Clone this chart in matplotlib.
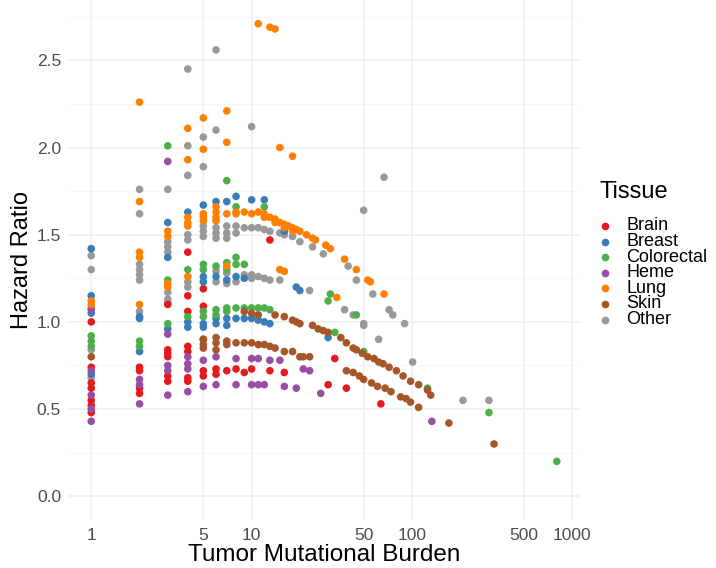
import matplotlib
matplotlib.use("Agg")
import matplotlib.pyplot as plt
from matplotlib.lines import Line2D

plt.rcParams['font.family'] = ['Liberation Sans', 'DejaVu Sans']

# ---------------- data ----------------
tissues = ["Brain", "Breast", "Colorectal", "Heme", "Lung", "Skin", "Other"]
colors = ["#E41A1C", "#377EB8", "#4DAF4A", "#984EA3", "#FF7F00", "#A65628", "#999999"]

brain_tmb = [1,1,1,1,1,1,1, 2,2,2,2, 3,3,3,3,3,3, 4,4,4,4,4,4,4, 5,5,5,5,5, 6,6,
             7, 8, 9, 10, 13, 13, 16, 30, 33, 39, 64]
brain_hr = [1.00,0.74,0.65,0.62,0.55,0.52,0.48, 0.74,0.72,0.62,0.59,
            1.10,0.84,0.82,0.80,0.69,0.66, 1.40,1.15,1.06,0.86,0.83,0.68,0.66,
            1.19,1.09,0.90,0.72,0.69, 0.73,0.70,
            0.72, 0.73, 0.71, 0.73, 1.47, 0.72, 0.71, 0.64, 0.79, 0.62, 0.53]

breast_tmb = [1,1,1,1, 2,2,2, 3,3,3, 4,4,4, 5,5,5,5,5, 6,6,6,6, 7,7,7,7, 8,8,8,
              9,9, 10,10, 11, 12,12, 13, 16, 19, 20, 30]
breast_hr = [1.42,1.15,1.05,0.70, 1.03,1.02,0.83, 1.57,1.37,0.96, 1.63,1.00,0.97,
             1.67,1.26,1.23,0.99,0.97, 1.69,1.26,1.02,0.99, 1.69,1.24,1.02,0.98,
             1.72,1.26,1.02, 1.02,1.25, 1.70,1.02, 1.01, 1.70,1.00, 0.99, 1.52,
             1.20, 1.18, 0.91]

colorectal_tmb = [1,1,1, 2,2, 3,3,3, 4,4, 5,5,5,5, 6,6,6, 7,7,7,7,7, 8,8,8,8,
                  9,9, 10, 11, 12,12, 13, 30, 31, 33, 45, 50, 125, 302, 800]
colorectal_hr = [0.92,0.89,0.86, 0.89,0.86, 2.01,1.24,0.99, 1.30,1.03,
                 1.33,1.30,1.06,1.03, 1.32,1.07,1.04, 1.81,1.34,1.30,1.08,1.06,
                 1.66,1.37,1.33,1.08, 1.33,1.08, 1.08, 1.08, 1.66,1.08, 1.07,
                 1.12, 1.16, 0.94, 1.04, 0.83, 0.62, 0.48, 0.20]

heme_tmb = [1,1,1,1,1, 2,2,2, 3,3,3,3,3, 4,4,4,4, 5,5, 6,6, 8,8, 10,10, 11,11,
            12, 13, 15, 16, 19, 21, 23, 27, 133]
heme_hr = [1.07,0.72,0.58,0.50,0.43, 0.67,0.64,0.53, 1.92,0.93,0.75,0.72,0.58,
           0.80,0.76,0.73,0.60, 0.78,0.63, 0.80,0.64, 0.79,0.64, 0.79,0.64,
           0.79,0.64, 0.64, 0.78, 0.78, 0.63, 0.62, 0.73, 0.72, 0.59, 0.43]

lung_tmb = [1,1, 2,2,2,2,2, 3,3,3,3, 4,4,4,4,4,4, 5,5,5,5,5, 6,6,6,6, 7,7,7,7,
            8,8, 9, 10, 11,11, 12,12, 13,13, 14,14,14, 15,15, 15, 16,16,16, 17,
            18,18,18, 19, 20, 22, 24, 25, 29, 31, 34, 38, 45, 53, 55, 67]
lung_hr = [1.12,1.10, 2.26,1.69,1.40,1.37,1.10, 1.52,1.49,1.22,1.20,
           2.11,1.93,1.60,1.57,1.55,1.26, 2.17,1.99,1.62,1.60,1.58,
           1.66,1.63,1.60,1.58, 2.21,2.03,1.62,1.32, 1.62,1.63, 1.63, 1.62,
           2.71,1.63, 1.62,1.60, 2.69,1.60, 2.68,1.59,1.57, 2.00,1.57, 1.30,
           1.56,1.29,1.54, 1.55, 1.95,1.54,1.52, 1.53, 1.52, 1.50, 1.48, 1.47,
           1.44, 1.42, 1.14, 1.36, 1.30, 1.24, 1.23, 1.16]

skin_tmb = [1, 5,5,5, 6,6,6, 7,7, 8, 9,9, 10,10, 11,11, 12, 13, 14,14, 16,16,
            18,18, 19, 20,20, 21, 23, 24, 26, 28, 30, 36, 39,39, 43,43, 45, 47,
            49, 50, 53, 56, 58, 61, 62, 66, 68, 72, 74, 80, 85, 88, 92, 98,98,
            110,110, 125, 131, 170, 325]
skin_hr = [0.80, 0.90,0.87,0.85, 0.91,0.88,0.84, 0.89,0.87, 0.88, 0.88,1.06,
           0.88,1.05, 0.87,1.04, 0.87, 0.86, 1.04,0.85, 1.03,0.83, 1.01,0.83,
           1.00, 0.99,0.80, 0.80, 0.80, 0.98, 0.96, 0.95, 0.94, 0.91, 0.88,0.72,
           0.85,0.71, 0.84, 0.69, 0.82, 0.67, 0.80, 0.65, 0.79, 0.63, 0.77,
           0.76, 0.62, 0.74, 0.60, 0.72, 0.57, 0.69, 0.56, 0.66,0.54, 0.64,0.51,
           0.61, 0.58, 0.42, 0.30]

other_tmb = [1,1,1,1,1, 2,2,2,2,2,2,2, 3,3,3,3,3,3,3, 4,4,4,4,4,4,4, 5,5,5,5,5,
             6,6,6,6,6,6,6, 7,7,7,7,7, 8,8,8, 9,9, 10,10,10,10, 11,11, 12,12,
             13,13, 15,15, 16, 18, 20, 23, 24, 28, 38, 40, 43, 45, 50,50,50, 57,
             62, 67, 72, 76, 90, 101, 208, 302]
other_hr = [1.38,1.30,1.08,0.84,0.68, 1.76,1.62,1.33,1.30,1.27,1.24,1.06,
            1.76,1.46,1.43,1.40,1.17,1.13,1.11, 2.45,2.01,1.84,1.50,1.47,1.23,1.20,
            2.06,1.89,1.55,1.52,1.49, 2.56,2.10,1.54,1.51,1.48,1.29,1.23,
            1.55,1.51,1.48,1.28,1.22, 1.55,1.51,1.23, 1.54,1.27,
            2.12,1.54,1.27,1.25, 1.54,1.26, 1.53,1.25, 1.52,1.24, 1.51,1.24,
            1.50, 1.49, 1.46, 1.18, 1.43, 1.39, 1.07, 1.32, 1.04, 1.24,
            1.64,0.99,0.98, 1.16, 0.90, 1.83, 1.07, 1.04, 0.99, 0.77, 0.55, 0.55]

x_ticks = [1, 5, 10, 50, 100, 500, 1000]
x_tick_labels = ["1", "5", "10", "50", "100", "500", "1000"]
y_ticks = [0.0, 0.5, 1.0, 1.5, 2.0, 2.5]
y_tick_labels = ["0.0", "0.5", "1.0", "1.5", "2.0", "2.5"]

series = {
    "Brain": (brain_tmb, brain_hr),
    "Breast": (breast_tmb, breast_hr),
    "Colorectal": (colorectal_tmb, colorectal_hr),
    "Heme": (heme_tmb, heme_hr),
    "Lung": (lung_tmb, lung_hr),
    "Skin": (skin_tmb, skin_hr),
    "Other": (other_tmb, other_hr),
}

# ---------------- figure ----------------
W, H = 716, 568
fig = plt.figure(figsize=(W / 100, H / 100), dpi=100)
fig.patch.set_facecolor("white")
L, R, T, B = 68, 580, 0, 520
ax = fig.add_axes([L / W, 1 - B / H, (R - L) / W, (B - T) / H])
ax.set_facecolor("white")

ax.set_xscale("log")
ax.set_xlim(10 ** -0.145, 10 ** 3.048)
ax.set_ylim(-0.136, 2.846)

# grid
for yv in y_ticks:
    ax.axhline(yv, color="#EFEFEF", lw=1.1, zorder=0)
for yv in [0.25, 0.75, 1.25, 1.75, 2.25, 2.75]:
    ax.axhline(yv, color="#F5F5F5", lw=0.6, zorder=0)
for xv in x_ticks:
    ax.axvline(xv, color="#EFEFEF", lw=1.1, zorder=0)

order = ["Other", "Brain", "Breast", "Colorectal", "Heme", "Skin", "Lung"]
for name in order:
    xs, ys = series[name]
    c = colors[tissues.index(name)]
    ax.scatter(xs, ys, s=30, color=c, edgecolors="none", zorder=3)

ax.set_xticks(x_ticks)
ax.set_xticklabels(x_tick_labels)
ax.minorticks_off()
ax.set_yticks(y_ticks)
ax.set_yticklabels(y_tick_labels)
ax.tick_params(axis="both", length=0, labelsize=12.5, labelcolor="#4D4D4D")
ax.tick_params(axis="x", pad=6)
ax.tick_params(axis="y", pad=5)
for sp in ax.spines.values():
    sp.set_visible(False)

def fx(px):
    return px / W

def fy(py):
    return 1 - py / H

fig.text(fx((L + R) / 2), fy(555), "Tumor Mutational Burden", ha="center",
         va="center", fontsize=17.5, color="black")
fig.text(fx(22), fy(B / 2), "Hazard Ratio", ha="center", va="center",
         rotation=90, fontsize=17, color="black")

# legend (manual, ggplot style)
fig.text(fx(599), fy(192), "Tissue", ha="left", va="center", fontsize=17,
         color="black")
for i, name in enumerate(tissues):
    yy = 226 + i * 15.6
    fig.add_artist(Line2D([fx(605)], [fy(yy)], marker="o", markersize=4.5,
                          color=colors[i], linestyle="none",
                          transform=fig.transFigure))
    fig.text(fx(626), fy(yy), name, ha="left", va="center", fontsize=13,
             color="black")

fig.savefig("out.png", dpi=100, facecolor="white")
